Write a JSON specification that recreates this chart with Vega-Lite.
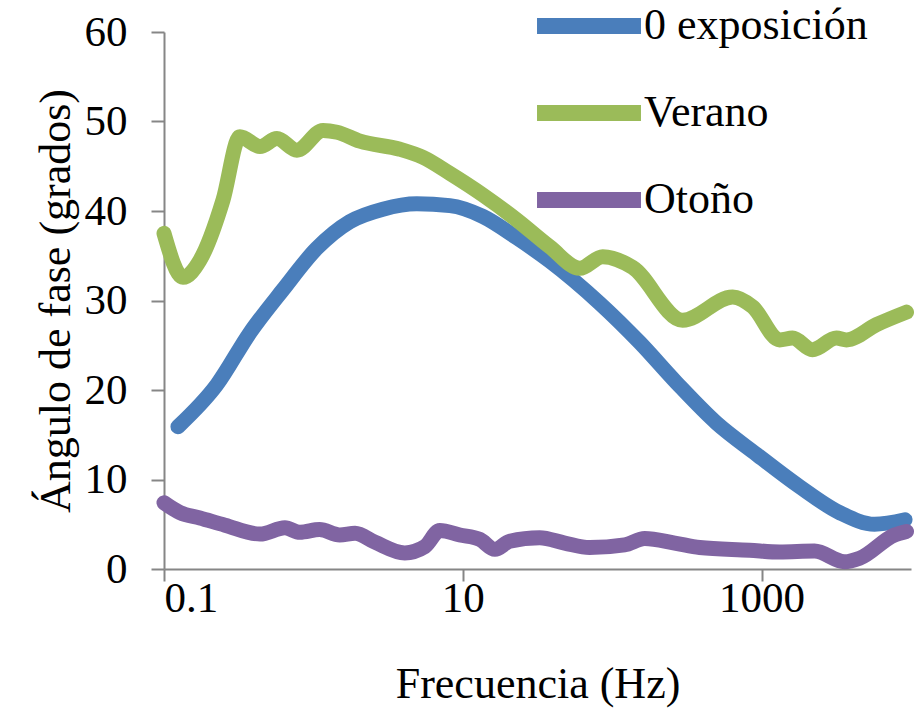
{
  "$schema": "https://vega.github.io/schema/vega-lite/v6.json",
  "width": 747,
  "height": 537,
  "autosize": "none",
  "padding": {"left": 164, "top": 32, "right": 12, "bottom": 140},
  "background": "white",
  "config": {
    "view": {"stroke": null},
    "font": "Liberation Serif"
  },
  "data": {
    "values": [
      {"f": 0.124, "v": 15.9, "s": "0 exposición"},
      {"f": 0.226, "v": 20.6, "s": "0 exposición"},
      {"f": 0.376, "v": 26.4, "s": "0 exposición"},
      {"f": 0.625, "v": 31.2, "s": "0 exposición"},
      {"f": 1.05, "v": 35.8, "s": "0 exposición"},
      {"f": 1.75, "v": 38.8, "s": "0 exposición"},
      {"f": 2.92, "v": 40.2, "s": "0 exposición"},
      {"f": 4.92, "v": 40.8, "s": "0 exposición"},
      {"f": 8.19, "v": 40.6, "s": "0 exposición"},
      {"f": 13.6, "v": 39.4, "s": "0 exposición"},
      {"f": 23.0, "v": 37.0, "s": "0 exposición"},
      {"f": 38.2, "v": 34.4, "s": "0 exposición"},
      {"f": 82.4, "v": 29.7, "s": "0 exposición"},
      {"f": 153, "v": 25.3, "s": "0 exposición"},
      {"f": 270, "v": 20.8, "s": "0 exposición"},
      {"f": 500, "v": 16.3, "s": "0 exposición"},
      {"f": 927, "v": 12.8, "s": "0 exposición"},
      {"f": 1795, "v": 9.2, "s": "0 exposición"},
      {"f": 3326, "v": 6.3, "s": "0 exposición"},
      {"f": 5700, "v": 5.0, "s": "0 exposición"},
      {"f": 9120, "v": 5.5, "s": "0 exposición"},

      {"f": 0.1, "v": 37.5, "s": "Verano"},
      {"f": 0.134, "v": 32.6, "s": "Verano"},
      {"f": 0.174, "v": 34.5, "s": "Verano"},
      {"f": 0.248, "v": 41.2, "s": "Verano"},
      {"f": 0.322, "v": 48.3, "s": "Verano"},
      {"f": 0.439, "v": 47.2, "s": "Verano"},
      {"f": 0.57, "v": 48.1, "s": "Verano"},
      {"f": 0.776, "v": 46.8, "s": "Verano"},
      {"f": 1.16, "v": 49.0, "s": "Verano"},
      {"f": 1.44, "v": 48.8, "s": "Verano"},
      {"f": 2.05, "v": 47.8, "s": "Verano"},
      {"f": 3.79, "v": 46.9, "s": "Verano"},
      {"f": 5.4, "v": 46.0, "s": "Verano"},
      {"f": 8.19, "v": 44.2, "s": "Verano"},
      {"f": 13.6, "v": 41.8, "s": "Verano"},
      {"f": 23.0, "v": 39.0, "s": "Verano"},
      {"f": 38.2, "v": 36.0, "s": "Verano"},
      {"f": 60.7, "v": 33.6, "s": "Verano"},
      {"f": 86.4, "v": 34.9, "s": "Verano"},
      {"f": 137, "v": 33.7, "s": "Verano"},
      {"f": 296, "v": 27.8, "s": "Verano"},
      {"f": 640, "v": 30.4, "s": "Verano"},
      {"f": 871, "v": 29.3, "s": "Verano"},
      {"f": 1320, "v": 25.6, "s": "Verano"},
      {"f": 1610, "v": 25.8, "s": "Verano"},
      {"f": 2190, "v": 24.5, "s": "Verano"},
      {"f": 3170, "v": 25.8, "s": "Verano"},
      {"f": 3700, "v": 25.6, "s": "Verano"},
      {"f": 5870, "v": 27.3, "s": "Verano"},
      {"f": 9330, "v": 28.7, "s": "Verano"},

      {"f": 0.1, "v": 7.4, "s": "Otoño"},
      {"f": 0.128, "v": 6.3, "s": "Otoño"},
      {"f": 0.174, "v": 5.7, "s": "Otoño"},
      {"f": 0.256, "v": 4.9, "s": "Otoño"},
      {"f": 0.439, "v": 3.9, "s": "Otoño"},
      {"f": 0.645, "v": 4.6, "s": "Otoño"},
      {"f": 0.812, "v": 4.1, "s": "Otoño"},
      {"f": 1.1, "v": 4.4, "s": "Otoño"},
      {"f": 1.5, "v": 3.8, "s": "Otoño"},
      {"f": 1.9, "v": 4.0, "s": "Otoño"},
      {"f": 2.58, "v": 3.0, "s": "Otoño"},
      {"f": 4.09, "v": 1.8, "s": "Otoño"},
      {"f": 5.57, "v": 2.5, "s": "Otoño"},
      {"f": 7.02, "v": 4.3, "s": "Otoño"},
      {"f": 9.55, "v": 3.8, "s": "Otoño"},
      {"f": 13.0, "v": 3.3, "s": "Otoño"},
      {"f": 16.4, "v": 2.2, "s": "Otoño"},
      {"f": 20.6, "v": 3.1, "s": "Otoño"},
      {"f": 32.7, "v": 3.5, "s": "Otoño"},
      {"f": 48.1, "v": 2.9, "s": "Otoño"},
      {"f": 70.6, "v": 2.4, "s": "Otoño"},
      {"f": 121, "v": 2.7, "s": "Otoño"},
      {"f": 165, "v": 3.4, "s": "Otoño"},
      {"f": 262, "v": 2.9, "s": "Otoño"},
      {"f": 385, "v": 2.4, "s": "Otoño"},
      {"f": 831, "v": 2.1, "s": "Otoño"},
      {"f": 1320, "v": 1.9, "s": "Otoño"},
      {"f": 2260, "v": 2.0, "s": "Otoño"},
      {"f": 3590, "v": 0.8, "s": "Otoño"},
      {"f": 4530, "v": 1.2, "s": "Otoño"},
      {"f": 7760, "v": 3.8, "s": "Otoño"},
      {"f": 9330, "v": 4.2, "s": "Otoño"}
    ]
  },
  "mark": {"type": "line", "strokeWidth": 15, "strokeCap": "round", "strokeJoin": "round", "interpolate": "monotone", "clip": false},
  "encoding": {
    "x": {
      "field": "f", "type": "quantitative",
      "scale": {"type": "log", "domain": [0.1, 10000], "nice": false},
      "axis": {
        "title": "Frecuencia (Hz)",
        "values": [0.1, 10, 1000],
        "format": "~g",
        "grid": false,
        "domainColor": "#868686", "domainWidth": 2,
        "tickColor": "#868686", "tickWidth": 2, "tickSize": 12,
        "labelFont": "Liberation Serif", "labelFontSize": 43, "labelColor": "#000000",
        "labelPadding": -4,
        "titleFont": "Liberation Serif", "titleFontSize": 44, "titleFontWeight": "normal", "titleColor": "#000000",
        "titlePadding": 42
      }
    },
    "y": {
      "field": "v", "type": "quantitative",
      "scale": {"domain": [0, 60], "nice": false},
      "axis": {
        "title": "Ángulo de fase (grados)",
        "values": [0, 10, 20, 30, 40, 50, 60],
        "grid": false,
        "domainColor": "#868686", "domainWidth": 2,
        "tickColor": "#868686", "tickWidth": 2, "tickSize": 13,
        "labelFont": "Liberation Serif", "labelFontSize": 43, "labelColor": "#000000",
        "labelPadding": 24,
        "titleFont": "Liberation Serif", "titleFontSize": 44, "titleFontWeight": "normal", "titleColor": "#000000",
        "titlePadding": 6
      }
    },
    "color": {
      "field": "s", "type": "nominal",
      "scale": {"domain": ["0 exposición", "Verano", "Otoño"], "range": ["#4A7EBB", "#9BBB59", "#8064A2"]},
      "legend": {
        "title": null,
        "orient": "none",
        "legendX": 370,
        "legendY": -61,
        "symbolType": "M-1.106,0H1.106",
        "symbolSize": 8836,
        "symbolStrokeWidth": 16,
        "symbolFillColor": "transparent",
        "labelFont": "Liberation Serif",
        "labelFontSize": 44,
        "labelColor": "#000000",
        "labelOffset": 0,
        "rowPadding": 0,
        "labelLimit": 400
      }
    }
  }
}
